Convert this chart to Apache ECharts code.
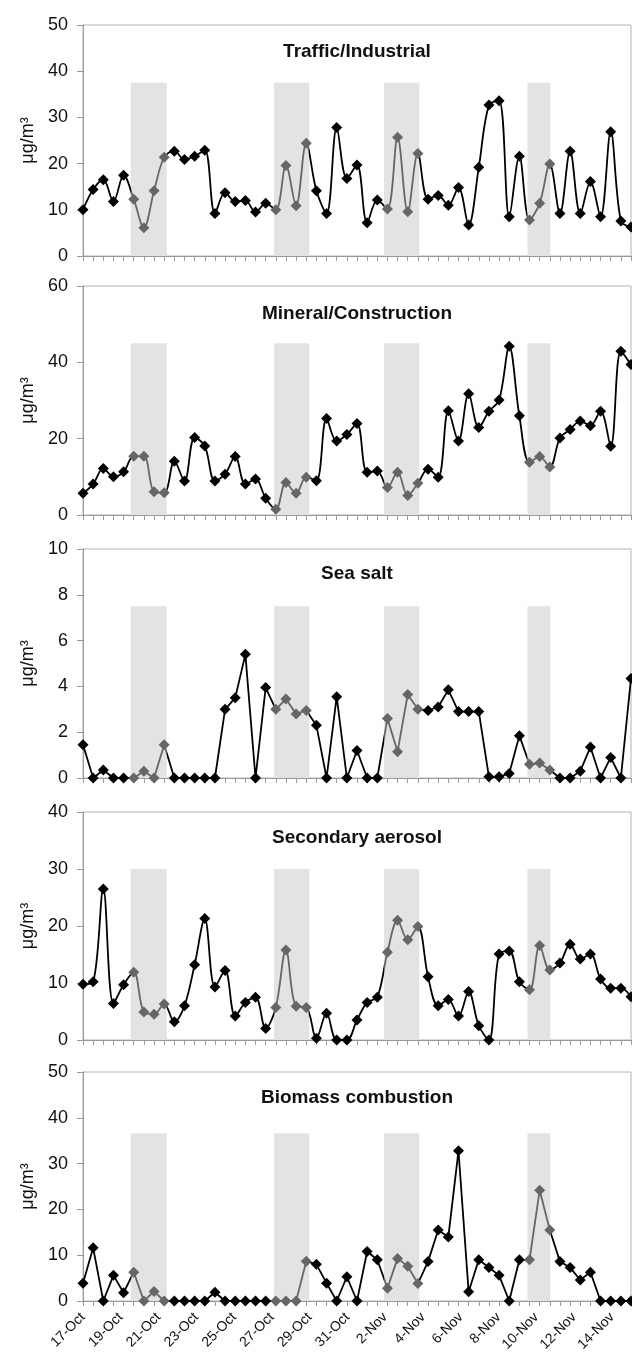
<!DOCTYPE html>
<html>
<head>
<meta charset="utf-8">
<script src="https://cdn.jsdelivr.net/npm/echarts@6/dist/echarts.min.js"></script>
<style>
html,body{margin:0;padding:0;background:#fff;}
#chart{width:632px;height:1361px;}
</style>
</head>
<body>
<div id="chart"></div>
<script>
// ---- data (55 samples per series) ----
const dateLabels = ['17-Oct','19-Oct','21-Oct','23-Oct','25-Oct','27-Oct','29-Oct','31-Oct','2-Nov','4-Nov','6-Nov','8-Nov','10-Nov','12-Nov','14-Nov'];
const panelTitles = ['Traffic/Industrial','Mineral/Construction','Sea salt','Secondary aerosol','Biomass combustion'];

const traffic = [10.0,14.4,16.5,11.8,17.5,12.3,6.1,14.1,21.4,22.7,20.9,21.6,22.9,9.2,13.7,11.8,12.0,9.5,11.4,10.0,19.6,10.9,24.4,14.1,9.2,27.8,16.8,19.7,7.2,12.1,10.2,25.7,9.6,22.2,12.3,13.1,11.0,14.8,6.7,19.2,32.7,33.6,8.5,21.6,7.8,11.4,19.9,9.2,22.7,9.2,16.1,8.5,26.9,7.6,6.3];
const mineral = [5.7,8.1,12.2,10.0,11.3,15.4,15.4,6.1,5.8,14.1,8.9,20.3,18.1,8.9,10.7,15.3,8.1,9.4,4.4,1.5,8.5,5.7,9.9,9.0,25.3,19.4,21.1,24.0,11.2,11.5,7.2,11.2,5.1,8.3,12.0,9.9,27.3,19.4,31.8,22.9,27.2,30.1,44.2,26.0,13.8,15.3,12.6,20.2,22.4,24.6,23.4,27.2,18.0,42.9,39.4];
const seaSalt = [1.45,0,0.35,0,0,0,0.3,0,1.45,0,0,0,0,0,3.0,3.5,5.4,0,3.95,3.0,3.45,2.8,2.95,2.3,0,3.55,0,1.2,0,0,2.6,1.15,3.65,3.0,2.95,3.1,3.85,2.9,2.9,2.9,0.05,0.05,0.2,1.85,0.6,0.65,0.35,0,0,0.3,1.35,0,0.9,0,4.35];
const secondary = [9.8,10.2,26.5,6.4,9.7,11.9,4.9,4.5,6.3,3.2,6.0,13.2,21.3,9.3,12.2,4.2,6.6,7.5,2.0,5.7,15.8,5.9,5.7,0.3,4.7,0,0,3.5,6.6,7.5,15.4,21.0,17.6,19.9,11.1,6.0,7.1,4.2,8.5,2.5,0,15.1,15.6,10.2,8.8,16.6,12.3,13.5,16.8,14.2,15.1,10.7,9.1,9.1,7.6];
const biomass = [3.9,11.6,0,5.6,1.8,6.3,0,2.1,0,0,0,0,0,1.9,0,0,0,0,0,0,0,0,8.7,8.0,3.9,0,5.3,0,10.8,9.0,2.8,9.3,7.6,3.8,8.6,15.5,14.0,32.8,2.0,9.0,7.3,5.6,0,9.0,9.0,24.2,15.5,8.6,7.3,4.6,6.3,0,0,0,0];

const seriesValues = [traffic, mineral, seaSalt, secondary, biomass];
const yMax = [50, 60, 10, 40, 50];
const yInterval = [10, 20, 2, 10, 10];
const smoothed = [true, true, false, true, false];

// shaded periods (in sample-index units) and their heights per panel
const bandStart = [4.7, 18.82, 29.66, 43.8];
const bandEnd = [8.25, 22.3, 33.14, 46.05];
const bandTop = [37.5, 45, 7.5, 30, 36.6];

// ---- layout ----
const gridTops = [25, 286, 549, 812, 1072];
const gridHeights = [231, 229, 229, 228, 229];
const titleY = [52, 314, 574, 838, 1098];
const FONT = '"Liberation Sans", Arial, sans-serif';

const grid = gridTops.map((t, k) => ({
  left: 83, right: 1, top: t, height: gridHeights[k],
  show: true, borderColor: '#b4b4b4', borderWidth: 1
}));

const xAxis = gridTops.map((t, k) => ({
  type: 'value', gridIndex: k, min: 0, max: traffic.length - 1, interval: 1,
  axisLine: { show: true, onZero: false, lineStyle: { color: '#9a9a9a', width: 1 } },
  axisTick: { show: true, length: 5, lineStyle: { color: '#9a9a9a' } },
  axisLabel: { show: false },
  splitLine: { show: false }
}));
// date label axis for the bottom panel (days since 17-Oct)
xAxis.push({
  type: 'value', gridIndex: 4, position: 'bottom', min: 0, max: 29, interval: 2,
  axisLine: { show: false }, axisTick: { show: false }, splitLine: { show: false },
  axisLabel: {
    rotate: 45, fontSize: 14, fontFamily: FONT, color: '#111', margin: 14,
    showMaxLabel: false,
    formatter: v => (v % 2 === 0 && dateLabels[v / 2]) ? dateLabels[v / 2] : ''
  }
});

const yAxis = gridTops.map((t, k) => ({
  type: 'value', gridIndex: k, min: 0, max: yMax[k], interval: yInterval[k],
  name: 'μg/m³', nameLocation: 'middle', nameGap: 45,
  nameTextStyle: { fontSize: 18, fontFamily: FONT, color: '#111' },
  axisLine: { show: true, lineStyle: { color: '#9a9a9a', width: 1 } },
  axisTick: { show: true, length: 6, lineStyle: { color: '#9a9a9a' } },
  axisLabel: { fontSize: 18, fontFamily: FONT, color: '#111', margin: 15 },
  splitLine: { show: false }
}));

const visualMap = seriesValues.map((vals, k) => ({
  type: 'piecewise', show: false, seriesIndex: k, dimension: 0,
  pieces: bandStart.map((s, j) => ({ gte: s, lte: bandEnd[j], color: '#666666' })),
  outOfRange: { color: '#000000' }
}));

const series = seriesValues.map((vals, k) => ({
  type: 'line', xAxisIndex: k, yAxisIndex: k,
  data: vals.map((v, i) => [i, v]),
  symbol: 'diamond', symbolSize: 11,
  smooth: smoothed[k] ? 0.35 : false,
  lineStyle: { width: 1.8 },
  itemStyle: { borderWidth: 0 },
  z: 3,
  markArea: {
    silent: true,
    itemStyle: { color: '#e3e3e3' },
    data: bandStart.map((s, j) => [{ xAxis: s, yAxis: 0 }, { xAxis: bandEnd[j], yAxis: bandTop[k] }])
  }
}));

const graphic = panelTitles.map((txt, k) => ({
  type: 'text', x: 357, y: titleY[k], z: 10,
  style: { text: txt, font: 'bold 19px ' + FONT, fill: '#111', textAlign: 'center', textVerticalAlign: 'middle' }
}));

const chart = echarts.init(document.getElementById('chart'), null, { renderer: 'canvas' });
chart.setOption({
  animation: false,
  backgroundColor: '#fff',
  grid, xAxis, yAxis, visualMap, series, graphic
});
</script>
</body>
</html>
